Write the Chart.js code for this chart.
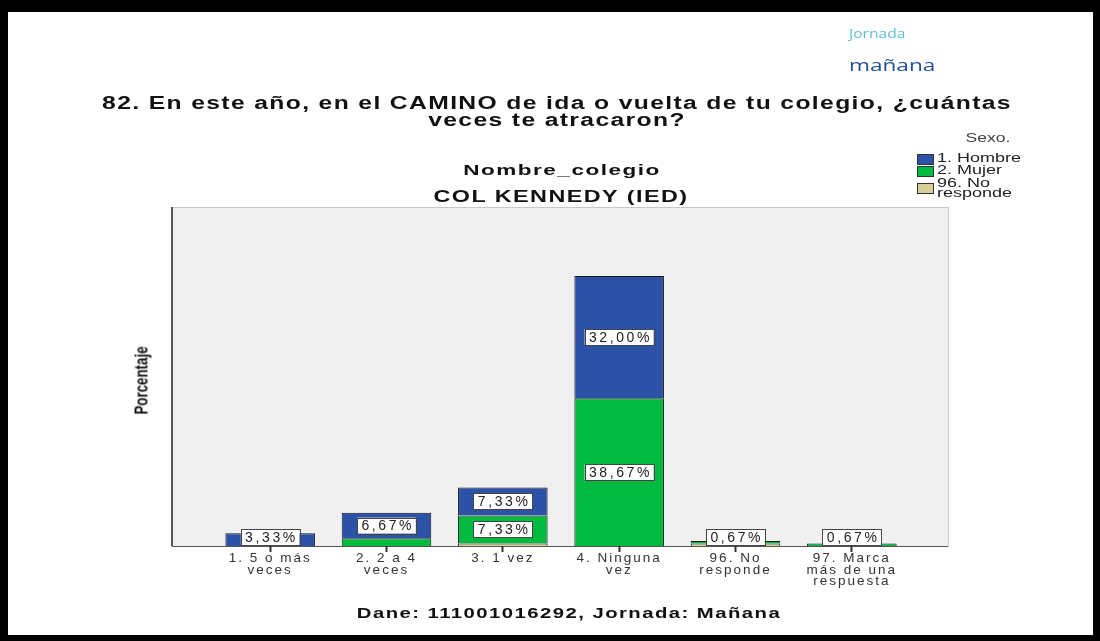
<!DOCTYPE html>
<html>
<head>
<meta charset="utf-8">
<script src="https://cdn.jsdelivr.net/npm/chart.js@4"></script>
<style>
  body { margin: 0; background: #fff; }
  #marco { position: absolute; left: 0; top: 0; width: 1100px; height: 641px; box-sizing: border-box;
           border-style: solid; border-color: #000; border-width: 12px 7px 6px 8px; pointer-events: none; }
  .txt { position: absolute; font-family: Arial, "Liberation Sans", sans-serif; white-space: nowrap; }
  .centro { text-align: center; font-weight: bold; color: #111; transform-origin: center; }
  #titulo { left: 57px; width: 1000px; top: 95px; font-size: 18px; line-height: 17px; letter-spacing: 1px;
            transform: scaleX(1.37); }
  #leyenda { left: 915px; top: 130px; font-size: 12px; color: #222; }
  #leyenda .fila { position: relative; height: 12px; padding-left: 22px; line-height: 11px; }
  #leyenda .fila span.t { display: inline-block; transform: scaleX(1.5); transform-origin: left; }
  #leyenda .caja { position: absolute; left: 2px; top: 1px; width: 15px; height: 9px; border: 1px solid #333; }
</style>
</head>
<body>
<canvas id="grafico" width="1100" height="641" style="position:absolute;left:0;top:0"></canvas>
<div class="txt" style="left:849px;top:25px;font-size:12px;color:#5bbfdc;font-family:'Open Sans',sans-serif;transform:scaleX(1.3);transform-origin:left">Jornada</div>
<div class="txt" style="left:849px;top:53px;font-size:17px;color:#1f4f96;font-family:'Open Sans',sans-serif;transform:scaleX(1.33);transform-origin:left">mañana</div>
<div class="txt centro" id="titulo">82. En este año, en el CAMINO de ida o vuelta de tu colegio, ¿cuántas<br>veces te atracaron?</div>
<div class="txt centro" style="left:362px;width:400px;top:161px;font-size:15px;letter-spacing:1px;transform:scaleX(1.5)">Nombre_colegio</div>
<div class="txt centro" style="left:361px;width:400px;top:188px;font-size:16px;letter-spacing:1px;transform:scaleX(1.46)">COL KENNEDY (IED)</div>
<div class="txt centro" style="left:369px;width:400px;top:605px;font-size:14px;letter-spacing:1px;transform:scaleX(1.45)">Dane: 111001016292, Jornada: Mañana</div>
<div class="txt centro" style="left:92px;top:370px;width:100px;transform:rotate(-90deg) scaleX(0.74);font-size:18px;color:#111">Porcentaje</div>
<div class="txt" id="leyenda"></div>
<div id="marco"></div>
<script>
// Datos (porcentajes)
const categorias = [["1. 5 o más", "veces"], ["2. 2 a 4", "veces"], ["3. 1 vez"], ["4. Ninguna", "vez"], ["96. No", "responde"], ["97. Marca", "más de una", "respuesta"]];
const hombre = [3.33, 6.67, 7.33, 32.00, null, null];
const mujer = [null, 2.00, 7.33, 38.67, 0.67, 0.67];
const noResponde = [null, null, 0.67, null, 0.67, null];
// Qué etiquetas se ven en la imagen
const verHombre = [true, true, true, true, false, false];
const verMujer = [false, false, true, true, true, true];
const verNoResponde = [false, false, false, false, false, false];

const nombresSexo = ["1. Hombre", "2. Mujer", "96. No\nresponde"];
const coloresSexo = ["#2b52a6", "#00b93f", "#d6cf98"];

// Leyenda (orden Hombre, Mujer, No responde)
const ley = document.getElementById("leyenda");
ley.innerHTML = '<div style="width:146px;text-align:center;font-size:13px;color:#444;margin-bottom:8px;transform:scaleX(1.35)">Sexo.</div>';
nombresSexo.forEach((n, i) => {
  const partes = n.split("\n");
  const fila = document.createElement("div");
  fila.className = "fila";
  if (partes.length > 1) { fila.style.height = "22px"; fila.style.lineHeight = "10px"; fila.style.marginTop = "1px"; }
  fila.innerHTML = `<span class="caja" style="background:${coloresSexo[i]};${partes.length > 1 ? 'top:5px;' : ''}"></span>` +
                   `<span class="t">${partes.join("<br>")}</span>`;
  ley.appendChild(fila);
});

const fmt = (v) => v.toFixed(2).replace(".", ",") + "%";

// Fondo gris del área de gráfico con su marco
const fondo = {
  id: "fondo",
  beforeDraw(chart) {
    const { ctx, chartArea: a } = chart;
    ctx.save();
    const l = a.left - 40, r = a.right + 38;
    ctx.fillStyle = "#f0f0f0";
    ctx.fillRect(l, a.top, r - l, a.bottom - a.top);
    ctx.strokeStyle = "#c8c8c8";
    ctx.lineWidth = 1;
    ctx.strokeRect(l + 0.5, a.top + 0.5, r - l, a.bottom - a.top);
    ctx.strokeStyle = "#555";
    ctx.lineWidth = 2;
    ctx.beginPath();
    ctx.moveTo(l, a.top); ctx.lineTo(l, a.bottom);
    ctx.stroke();
    ctx.lineWidth = 1;
    ctx.beginPath();
    ctx.moveTo(l, a.bottom + 0.5); ctx.lineTo(r, a.bottom + 0.5);
    ctx.stroke();
    ctx.restore();
    ctx.letterSpacing = "2px";
  }
};

// Etiquetas de valor en cajas blancas
const etiquetas = {
  id: "etiquetas",
  afterDatasetsDraw(chart) {
    const { ctx, chartArea: a } = chart;
    ctx.save();
    ctx.font = "14px Arial";
    ctx.letterSpacing = "2.6px";
    ctx.textAlign = "center";
    ctx.textBaseline = "middle";
    chart.data.datasets.forEach((ds, i) => {
      const meta = chart.getDatasetMeta(i);
      meta.data.forEach((bar, j) => {
        const v = ds.data[j];
        if (v == null || !ds.mostrar[j]) return;
        const cy = Math.min((bar.y + bar.base) / 2, a.bottom - 9);
        const t = fmt(v);
        const w = ctx.measureText(t).width + 6;
        ctx.fillStyle = "#fff";
        ctx.fillRect(bar.x - w / 2, cy - 8, w, 16);
        ctx.strokeStyle = "#444";
        ctx.lineWidth = 1;
        ctx.strokeRect(Math.round(bar.x - w / 2) + 0.5, Math.round(cy - 8) + 0.5, Math.round(w), 16);
        ctx.fillStyle = "#222";
        ctx.fillText(t, bar.x + 1.3, cy + 1);
      });
    });
    ctx.restore();
  }
};

new Chart(document.getElementById("grafico"), {
  type: "bar",
  data: {
    labels: categorias,
    datasets: [
      { label: "96. No responde", data: noResponde, mostrar: verNoResponde, backgroundColor: coloresSexo[2] },
      { label: "2. Mujer", data: mujer, mostrar: verMujer, backgroundColor: coloresSexo[1] },
      { label: "1. Hombre", data: hombre, mostrar: verHombre, backgroundColor: coloresSexo[0] },
    ].map(d => Object.assign(d, { borderColor: "#1a1a1a", borderWidth: 1, borderSkipped: "start",
                                   barPercentage: 0.77, categoryPercentage: 1 })),
  },
  options: {
    responsive: false,
    devicePixelRatio: 1,
    animation: false,
    layout: { padding: { left: 212, right: 190, top: 207, bottom: 0 } },
    plugins: { legend: { display: false }, tooltip: { enabled: false } },
    scales: {
      x: {
        stacked: true,
        grid: { display: true, drawOnChartArea: false, offset: false, tickLength: 6, color: "#333", tickWidth: 2 },
        border: { display: false },
        ticks: { color: "#333", padding: 1, font: { family: "Arial", size: 13.5, lineHeight: 0.85 } },
        afterFit: (s) => { s.height = 95; },
      },
      y: { stacked: true, display: false, min: 0, max: 88.7 },
    },
  },
  plugins: [fondo, etiquetas],
});
</script>
</body>
</html>
